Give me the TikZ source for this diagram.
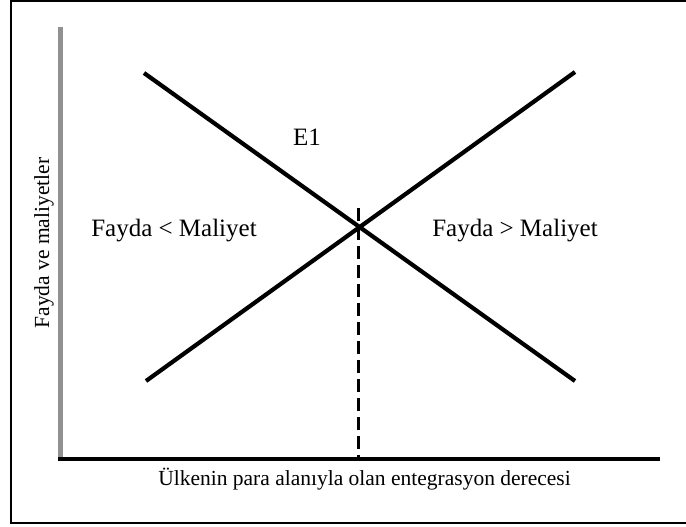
\documentclass[tikz,border=0pt]{standalone}
\usepackage{fontspec}
\setmainfont{Liberation Serif}
\begin{document}
\begin{tikzpicture}[x=1pt,y=-1pt,
  curve/.style={line width=4.2pt},
  lbl/.style={font=\fontsize{25}{28}\selectfont, inner sep=0pt},
  axlbl/.style={font=\fontsize{21.5}{24}\selectfont, inner sep=0pt}]
\useasboundingbox (0,0) rectangle (686,527);
% frame
\draw[line width=1.3pt] (687,1) -- (11,1) -- (11,523) -- (687,523);
% axes
\coordinate (ytop) at (60.5,27);
\coordinate (ybot) at (60.5,461);
\coordinate (xl) at (58,459);
\coordinate (xr) at (660,459);
\draw[line width=5pt, color=black!43] (ytop) -- (ybot);
\draw[line width=4.2pt] (xl) -- (xr);
% curves
\coordinate (a1) at (144,73);
\coordinate (a2) at (575,381);
\coordinate (b1) at (146,381);
\coordinate (b2) at (575,72);
\draw[curve] (a1) -- (a2);
\draw[curve] (b1) -- (b2);
% dashed
\coordinate (dtop) at (358.5,208);
\coordinate (dbot) at (358.5,458);
\draw[line width=3.5pt, dash pattern=on 13pt off 6pt] (dtop) -- (dbot);
% labels
\node[lbl, anchor=base] (e1) at (307,145) {E1};
\node[lbl, anchor=base] (left) at (174,236) {Fayda < Maliyet};
\node[lbl, anchor=base] (right) at (515,236) {Fayda > Maliyet};
\node[axlbl, anchor=base] (xlab) at (364.5,485) {Ülkenin para alanıyla olan entegrasyon derecesi};
\node[axlbl, anchor=base, rotate=90] (ylab) at (49,243) {Fayda ve maliyetler};
\end{tikzpicture}
\end{document}
